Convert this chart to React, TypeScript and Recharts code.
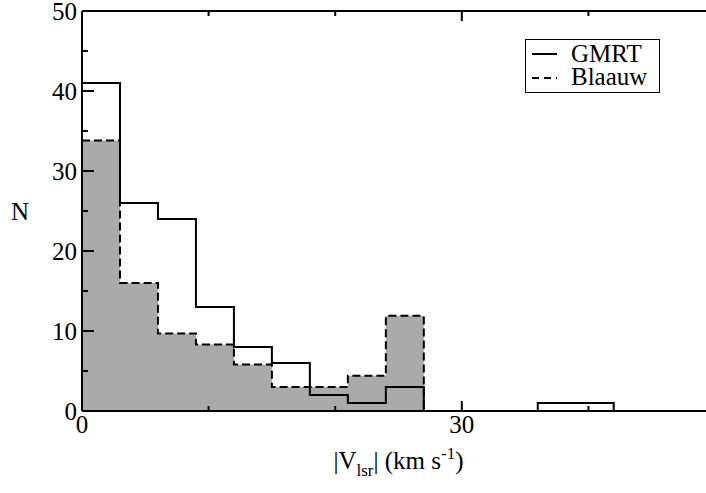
import React from "react";
import { ComposedChart, Area, Line, XAxis, YAxis, Legend } from "recharts";

// histogram bin edges (km/s) and counts per bin
const binEdges = [0, 3, 6, 9, 12, 15, 18, 21, 24, 27, 30, 33, 36, 39, 42];
const gmrtCounts = [41, 26, 24, 13, 8, 6, 2, 1, 3, 0, 0, 0, 1, 1];
const blaauwCounts = [33.8, 16, 9.7, 8.3, 5.8, 3, 3, 4.4, 11.9];

const xTicks = [0, 10, 20, 30, 40, 50];
const yTicks = [0, 5, 10, 15, 20, 25, 30, 35, 40, 45, 50];
const seriesNames = ["GMRT", "Blaauw"];

const FONT = "Liberation Serif, Tinos, Times New Roman, DejaVu Serif, serif";
const FS = 25;
const txt = { fontFamily: FONT, fontSize: FS, fill: "#000" };

const data = binEdges.map((x, i) => ({
  x,
  gmrt: i < gmrtCounts.length ? gmrtCounts[i] : 0,
  blaauw:
    i < blaauwCounts.length ? blaauwCounts[i] : i === blaauwCounts.length ? 0 : null,
}));

const isMajorX = (v: number) => v % 30 === 0;
const isMajorY = (v: number) => v % 10 === 0;

function LeftTick(props: any) {
  const { x, y, payload } = props;
  const major = isMajorY(payload.value);
  return (
    <g>
      <line x1={x} y1={y} x2={x + (major ? 12 : 6)} y2={y} stroke="#000" strokeWidth={2} />
      {major && (
        <text x={x - 5} y={y} dy="0.35em" textAnchor="end" style={txt}>
          {payload.value}
        </text>
      )}
    </g>
  );
}

function RightTick(props: any) {
  const { x, y, payload } = props;
  const major = isMajorY(payload.value);
  return <line x1={x} y1={y} x2={x - (major ? 12 : 6)} y2={y} stroke="#000" strokeWidth={2} />;
}

function BottomTick(props: any) {
  const { x, y, payload } = props;
  const major = isMajorX(payload.value);
  return (
    <g>
      <line x1={x} y1={y} x2={x} y2={y - (major ? 10 : 5)} stroke="#000" strokeWidth={2} />
      {major && (
        <text x={x} y={y + 22} textAnchor="middle" style={txt}>
          {payload.value}
        </text>
      )}
    </g>
  );
}

function TopTick(props: any) {
  const { x, y, payload } = props;
  const major = isMajorX(payload.value);
  return <line x1={x} y1={y} x2={x} y2={y + (major ? 10 : 5)} stroke="#000" strokeWidth={2} />;
}

function XTitle(props: any) {
  const { viewBox } = props;
  const cx = viewBox.x + viewBox.width / 2;
  return (
    <text x={cx} y={viewBox.y + 58} textAnchor="middle" style={txt}>
      |V
      <tspan dy={7} style={{ fontSize: 17 }}>lsr</tspan>
      <tspan dy={-7}>| (km s</tspan>
      <tspan dy={-10} style={{ fontSize: 17 }}>-1</tspan>
      <tspan dy={10}>)</tspan>
    </text>
  );
}

function YTitle(props: any) {
  const { viewBox } = props;
  return (
    <text x={viewBox.x + 20} y={viewBox.y + viewBox.height / 2} dy="0.35em" textAnchor="middle" style={txt}>
      N
    </text>
  );
}

function LegendBox() {
  return (
    <svg width={135} height={54} style={{ display: "block" }}>
      <rect x={0.5} y={0.5} width={134} height={53} fill="#fff" stroke="#000" strokeWidth={1} />
      {seriesNames.map((name, i) => (
        <g key={name}>
          <line
            x1={7}
            x2={32}
            y1={15 + i * 24}
            y2={15 + i * 24}
            stroke="#000"
            strokeWidth={2}
            strokeDasharray={i === 1 ? "7 5" : undefined}
          />
          <text x={46} y={23 + i * 23} style={txt}>
            {name}
          </text>
        </g>
      ))}
    </svg>
  );
}

export default function App() {
  return (
    <div style={{ position: "fixed", left: 0, top: 0, width: 706, height: 493, overflow: "hidden", background: "#fff" }}>
      <ComposedChart width={730} height={493} data={data} margin={{ top: 0, right: 0, bottom: 0, left: 0 }}>
        <XAxis
          xAxisId="bottom"
          dataKey="x"
          type="number"
          domain={[0, 50]}
          ticks={xTicks}
          orientation="bottom"
          height={82}
          tickSize={0}
          tickMargin={0}
          tickLine={false}
          tick={<BottomTick />}
          axisLine={{ stroke: "#000", strokeWidth: 2 }}
          label={<XTitle />}
          allowDataOverflow
        />
        <XAxis
          xAxisId="top"
          dataKey="x"
          type="number"
          domain={[0, 50]}
          ticks={xTicks}
          orientation="top"
          height={11}
          tickSize={0}
          tickMargin={0}
          tickLine={false}
          tick={<TopTick />}
          axisLine={{ stroke: "#000", strokeWidth: 2 }}
          allowDataOverflow
        />
        <YAxis
          yAxisId="left"
          type="number"
          domain={[0, 50]}
          ticks={yTicks}
          orientation="left"
          width={82}
          tickSize={0}
          tickMargin={0}
          tickLine={false}
          tick={<LeftTick />}
          axisLine={{ stroke: "#000", strokeWidth: 2 }}
          label={<YTitle />}
        />
        <YAxis
          yAxisId="right"
          type="number"
          domain={[0, 50]}
          ticks={yTicks}
          orientation="right"
          width={15}
          tickSize={0}
          tickMargin={0}
          tickLine={false}
          tick={<RightTick />}
          axisLine={{ stroke: "#000", strokeWidth: 2 }}
        />
        <Legend
          layout="horizontal"
          verticalAlign="middle"
          align="center"
          content={<LegendBox />}
          wrapperStyle={{ left: 525, top: 39, width: 135, height: 54 }}
        />
        <Area
          xAxisId="bottom"
          yAxisId="left"
          name="Blaauw"
          dataKey="blaauw"
          type="stepAfter"
          fill="#aaaaaa"
          fillOpacity={1}
          stroke="#000"
          strokeWidth={2}
          strokeDasharray="8 4"
          isAnimationActive={false}
        />
        <Line
          xAxisId="bottom"
          yAxisId="left"
          name="GMRT"
          dataKey="gmrt"
          type="stepAfter"
          stroke="#000"
          strokeWidth={2}
          dot={false}
          activeDot={false}
          isAnimationActive={false}
        />
      </ComposedChart>
    </div>
  );
}
